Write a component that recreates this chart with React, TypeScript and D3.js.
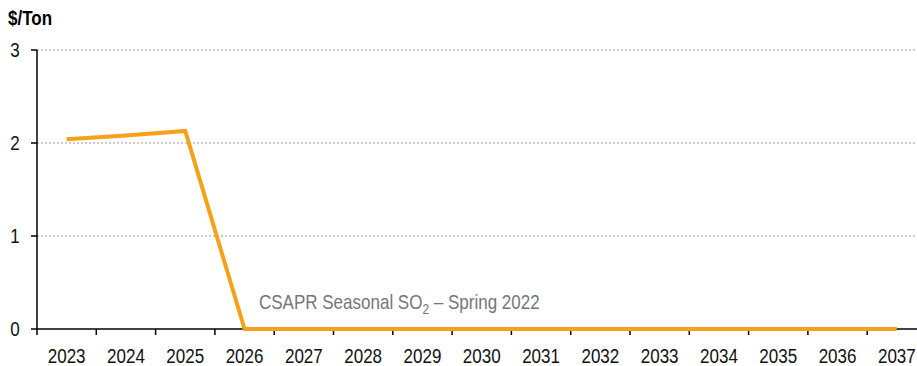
import React from "react";
import * as d3 from "d3";

const years = ["2023","2024","2025","2026","2027","2028","2029","2030","2031","2032","2033","2034","2035","2036","2037"];
const prices = [2.04, 2.08, 2.13, 0, 0, 0, 0, 0, 0, 0, 0, 0, 0, 0, 0];
const yTicks = [0, 1, 2, 3];

function T({ x, y, children, ...rest }: any) {
  return (
    <text transform={`translate(${x},${y}) scale(1,1.16)`} {...rest}>{children}</text>
  );
}

export default function App() {
  const W = 917, H = 366;
  const left = 37, right = 917, top = 50, bottom = 329;
  const step = 59.3;
  const x = d3.scaleBand<string>().domain(years).range([left, left + step * years.length]).padding(0);
  const y = d3.scaleLinear().domain([0, 3]).range([bottom, top]);
  const line = d3.line<number>()
    .x((_, i) => (x(years[i]) as number) + x.bandwidth() / 2)
    .y((d) => y(d));
  const font = "'Liberation Sans', Arial, sans-serif";
  return (
    <svg width={W} height={H} style={{ position: "absolute", left: 0, top: 0 }} fontFamily={font}>
      <T x={8} y={25} fontSize={17} fontWeight="bold" fill="#000">$/Ton</T>
      {yTicks.map((t) => (
        <g key={t}>
          {t > 0 && (
            <line x1={left} x2={right} y1={y(t)} y2={y(t)} stroke="#999" strokeWidth={1} strokeDasharray="2,2" />
          )}
          <line x1={left - 6} x2={left} y1={y(t)} y2={y(t)} stroke="#000" strokeWidth={1.5} />
          <T x={15} y={y(t) + 7} fontSize={17} textAnchor="middle" fill="#111">{t}</T>
        </g>
      ))}
      <line x1={left} x2={left} y1={top} y2={bottom} stroke="#000" strokeWidth={1.5} />
      <line x1={left} x2={right} y1={bottom} y2={bottom} stroke="#000" strokeWidth={1.5} />
      {years.map((yr) => (
        <g key={yr}>
          <line x1={x(yr) as number} x2={x(yr) as number} y1={bottom} y2={bottom + 6} stroke="#000" strokeWidth={1.5} />
          <T x={(x(yr) as number) + x.bandwidth() / 2} y={363} fontSize={17} textAnchor="middle" fill="#111">{yr}</T>
        </g>
      ))}
      <path d={line(prices) || ""} fill="none" stroke="#F7A11A" strokeWidth={4} strokeLinejoin="miter" />
      <T x={259} y={309} fontSize={17} fill="#767676">
        CSAPR Seasonal SO<tspan fontSize={12} dy={4}>2</tspan><tspan dy={-4}> – Spring 2022</tspan>
      </T>
    </svg>
  );
}
